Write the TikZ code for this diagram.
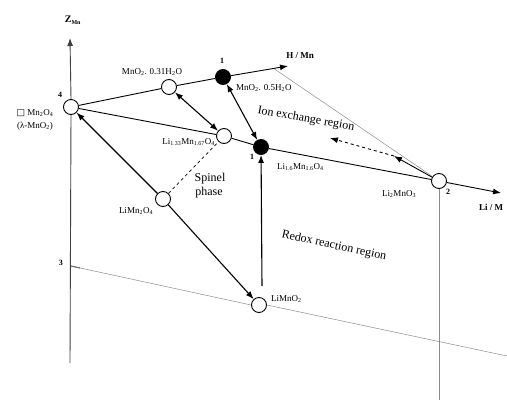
\documentclass[tikz,border=0pt]{standalone}
\usepackage{fontspec}
\setmainfont{Liberation Serif}
\newfontfamily\symfont{DejaVu Sans}
\usetikzlibrary{arrows.meta}

\begin{document}
\begin{tikzpicture}[x=1pt,y=-1pt,
  lab/.style={font=\fontsize{9}{10}\selectfont, inner sep=0pt},
  big/.style={font=\fontsize{12}{13}\selectfont, inner sep=0pt},
  num/.style={font=\fontsize{8}{9}\selectfont\bfseries, inner sep=0pt},
  opn/.style={circle,draw,fill=white,line width=0.9pt,minimum size=15pt,inner sep=0pt},
  sol/.style={circle,draw,fill=black,line width=0.9pt,minimum size=15pt,inner sep=0pt},
  axisline/.style={line width=0.9pt,black!75},
  tip/.style={-{Latex[length=8pt,width=6pt]}},
  arr/.style={line width=1.1pt,-{Latex[length=8pt,width=6pt]}},
  darr/.style={line width=1.1pt,{Latex[length=8pt,width=6pt]}-{Latex[length=8pt,width=6pt]}},
  guide/.style={black!45,line width=0.5pt}]
\useasboundingbox (0,0) rectangle (507,400);

% composition points
\node[opn] (n4)  at (71,107) {};
\node[opn] (hw)  at (169,87) {};
\node[sol] (h1)  at (223,77) {};
\node[opn] (sp)  at (224,136) {};
\node[sol] (l1)  at (261,147) {};
\node[opn] (l2)  at (439,181) {};
\node[opn] (lm)  at (163,199) {};
\node[opn] (lmo) at (259,305) {};

% free ends
\coordinate (zbot) at (70,363);
\coordinate (ztop) at (70,38);
\coordinate (hend) at (288,66);
\coordinate (lend) at (501,193);
\coordinate (hg)   at (273,68);
\coordinate (z3)   at (71,266);
\coordinate (bend) at (507,356);
\coordinate (vbot) at (439,400);
\coordinate (vst)  at (262,286);
\coordinate (ia)   at (394,156);
\coordinate (ib)   at (330,138);

% Z axis
\draw[axisline] (zbot) -- (n4.south);
\draw[axisline,tip] (n4.north) -- (ztop);
\draw[line width=0.8pt] (z3) -- ++(9,2);

% guide lines
\draw[guide] (z3) -- (lmo.west);
\draw[guide] (lmo.east) -- (bend);
\draw[guide] (hg) -- (l2);
\draw[guide] (l2.south) -- (vbot);

% H/Mn and Li/Mn axes
\draw[line width=0.9pt] (n4) -- (hw) -- (h1);
\draw[line width=0.9pt,tip] (h1) -- (hend);
\draw[line width=0.9pt] (n4) -- (sp) -- (l1) -- (l2);
\draw[line width=0.9pt,tip] (l2) -- (lend);

% reactions
\draw[arr] (lm) -- (n4);
\draw[arr] (lm) -- (lmo);
\draw[dashed,line width=0.7pt] (lm) -- (sp);
\draw[darr] (hw) -- (sp);
\draw[darr] (h1) -- (l1);
\draw[arr] (vst) -- (l1);
\draw[line width=0.9pt,tip] (l2) -- (ia);
\draw[dashed,line width=0.9pt,tip] (ia) -- (ib);

% labels
\node[font=\fontsize{10}{11}\selectfont\bfseries] (zl) at (73,20) {Z\textsubscript{\fontsize{6}{6}\selectfont Mn}};
\node[num] (t4) at (60,95) {4};
\node[num] (t3) at (61,263) {3};
\node[num] (t1a) at (222,61) {1};
\node[num] (t1b) at (252,157) {1};
\node[num] (t2) at (448,192) {2};
\node[num,font=\fontsize{9}{10}\selectfont\bfseries] (hl) at (300,56) {H / Mn};
\node[num,font=\fontsize{9}{10}\selectfont\bfseries,anchor=west] (ll) at (479,207) {Li / M};
\node[lab] (a) at (35,113) {{\symfont □} Mn\textsubscript{2}O\textsubscript{4}};
\node[lab] (b) at (35,126) {(λ-MnO\textsubscript{2})};
\node[lab] (c) at (152,72) {MnO\textsubscript{2}. 0.31H\textsubscript{2}O};
\node[lab,anchor=west] (d) at (236,88) {MnO\textsubscript{2}. 0.5H\textsubscript{2}O};
\node[lab,anchor=east] (e) at (215,142) {Li\textsubscript{1.33}Mn\textsubscript{1.67}O\textsubscript{4}};
\node[lab,anchor=west] (f) at (277,167) {Li\textsubscript{1.6}Mn\textsubscript{1.6}O\textsubscript{4}};
\node[lab] (g) at (399,194) {Li\textsubscript{2}MnO\textsubscript{3}};
\node[lab] (h) at (136,211) {LiMn\textsubscript{2}O\textsubscript{4}};
\node[lab,anchor=west] (k) at (271,299) {LiMnO\textsubscript{2}};
\node[big] (s1) at (210,179) {Spinel};
\node[big] (s2) at (209,193) {phase};
\node[big,rotate=-10] (ie) at (306,119) {Ion exchange region};
\node[big,rotate=-12] (rr) at (334,246) {Redox reaction region};
\end{tikzpicture}
\end{document}
